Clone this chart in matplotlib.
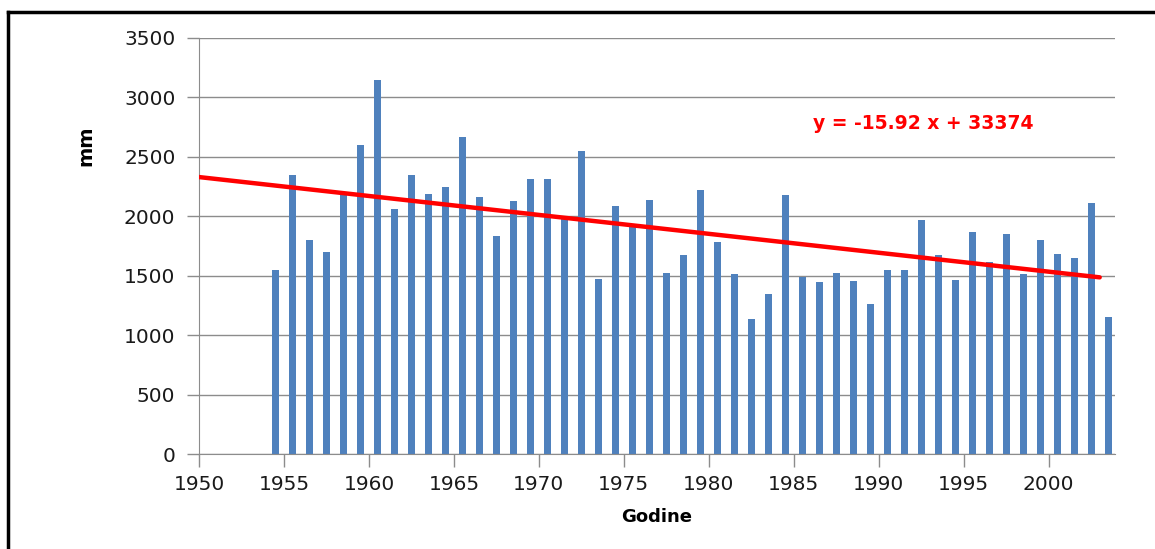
import numpy as np
import matplotlib
matplotlib.use("Agg")
import matplotlib.pyplot as plt
from matplotlib.lines import Line2D

# annual precipitation, mm
years = list(range(1954, 2004))
rain_mm = [1550, 2350, 1800, 1700, 2200, 2600, 3150, 2060, 2345, 2190,
           2245, 2670, 2165, 1835, 2130, 2315, 2315, 1990, 2550, 1475,
           2090, 1935, 2140, 1525, 1675, 2220, 1785, 1515, 1140, 1345,
           2175, 1485, 1445, 1525, 1455, 1260, 1550, 1550, 1970, 1675,
           1460, 1865, 1615, 1855, 1515, 1800, 1685, 1645, 2110, 1150]

# linear trend shown on the chart
trend_slope = -15.92
trend_intercept = 33374
trend_years = [1950, 2003]

y_ticks = [0, 500, 1000, 1500, 2000, 2500, 3000, 3500]
x_ticks = [1950, 1955, 1960, 1965, 1970, 1975, 1980, 1985, 1990, 1995, 2000]

grid_col = "#8c8c8c"
bar_col = "#4f81bd"

fig = plt.figure(figsize=(11.55, 5.49), dpi=100)
ax = fig.add_axes([199/1155, 1 - 454/549, (1115 - 199)/1155, (454 - 38)/549])

x = np.array(years) + 0.5
ax.bar(x, rain_mm, width=0.42, color=bar_col, zorder=2)

tx = np.array(trend_years)
ax.plot(tx, trend_slope*tx + trend_intercept, color="#ff0000", lw=3.2,
        solid_capstyle="round", zorder=3)

ax.text(0.67, 0.795, "y = -15.92 x + 33374", transform=ax.transAxes,
        color="#ff0000", fontsize=13.5, fontweight="bold", ha="left", va="center")

ax.set_xlim(1950, 2003.9)
ax.set_ylim(0, 3500)
ax.set_xticks(x_ticks)
ax.set_yticks(y_ticks)
ax.tick_params(axis="both", colors=grid_col, labelcolor="#1a1a1a", labelsize=14.5,
               length=9, width=1, direction="out")
ax.tick_params(axis="y", pad=8)
ax.tick_params(axis="x", pad=6)
ax.yaxis.grid(True, color=grid_col, lw=1, zorder=0)
ax.set_axisbelow(True)

for s in ["top", "right"]:
    ax.spines[s].set_visible(False)
for s in ["left", "bottom"]:
    ax.spines[s].set_color(grid_col)

ax.set_ylabel("mm", fontsize=14, fontweight="bold")
ax.yaxis.set_label_coords(-0.113, 0.74)
ax.set_xlabel("Godine", fontsize=13, fontweight="bold", labelpad=10)

# frame lines at the top and left of the picture
fig.add_artist(Line2D([8/1155, 1], [1 - 12/549, 1 - 12/549], color="black", lw=2.5,
                      transform=fig.transFigure))
fig.add_artist(Line2D([8/1155, 8/1155], [0, 1 - 12/549], color="black", lw=2.5,
                      transform=fig.transFigure))

fig.savefig("out.png", dpi=100)
